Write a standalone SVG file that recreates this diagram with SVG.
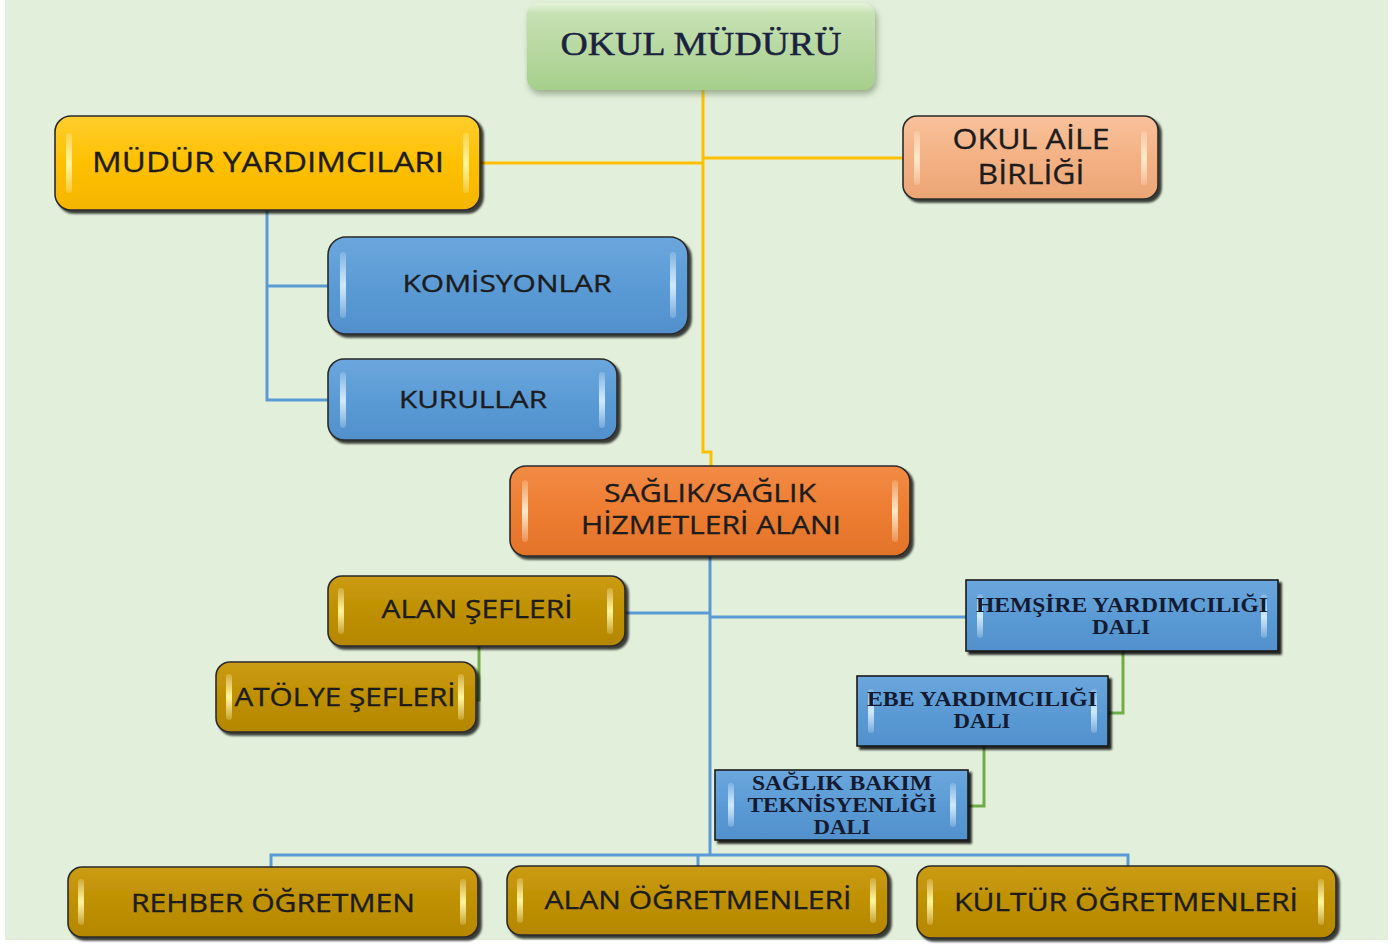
<svg xmlns="http://www.w3.org/2000/svg" width="1397" height="945" viewBox="0 0 1397 945">
<style>
.bg{fill:#e2efda}
.node{stroke:#2a2a2a;stroke-width:1.6;filter:url(#sh)}
.box{stroke:#1a1a1a;stroke-width:1.6;filter:url(#sh2)}
.t{font-family:"Open Sans","Liberation Sans",sans-serif;fill:#1c1c1c;stroke:#1c1c1c;stroke-width:0.35;text-anchor:middle}
.s{font-family:"Liberation Serif","DejaVu Serif",serif;fill:#141a30;text-anchor:middle;font-weight:bold}
.c{fill:none;stroke-width:3}
.y{stroke:#ffc000}
.b{stroke:#5b9bd5}
.g{stroke:#70ad47}
</style>
<defs>
<filter id="sh" x="-10%" y="-10%" width="125%" height="135%"><feDropShadow dx="3" dy="3" stdDeviation="1.2" flood-color="#000" flood-opacity="0.75"/></filter>
<filter id="sh2" x="-10%" y="-10%" width="125%" height="135%"><feDropShadow dx="3" dy="3" stdDeviation="0.8" flood-color="#000" flood-opacity="0.85"/></filter>
<filter id="sh3" x="-10%" y="-10%" width="125%" height="135%"><feDropShadow dx="2" dy="4" stdDeviation="3" flood-color="#6a7f5e" flood-opacity="0.6"/></filter>
<linearGradient id="gY" x1="0" y1="0" x2="0" y2="1"><stop offset="0" stop-color="#ffcd2e"/><stop offset="0.5" stop-color="#ffc000"/><stop offset="1" stop-color="#f4b500"/></linearGradient>
<linearGradient id="gP" x1="0" y1="0" x2="0" y2="1"><stop offset="0" stop-color="#f8c29c"/><stop offset="0.5" stop-color="#f4b183"/><stop offset="1" stop-color="#eca676"/></linearGradient>
<linearGradient id="gB" x1="0" y1="0" x2="0" y2="1"><stop offset="0" stop-color="#6ba7dd"/><stop offset="0.5" stop-color="#5b9bd5"/><stop offset="1" stop-color="#5190cc"/></linearGradient>
<linearGradient id="gO" x1="0" y1="0" x2="0" y2="1"><stop offset="0" stop-color="#f28b46"/><stop offset="0.5" stop-color="#ed7d31"/><stop offset="1" stop-color="#e2732a"/></linearGradient>
<linearGradient id="gG" x1="0" y1="0" x2="0" y2="1"><stop offset="0" stop-color="#cb9c14"/><stop offset="0.5" stop-color="#bf9000"/><stop offset="1" stop-color="#b48700"/></linearGradient>
<linearGradient id="gM" x1="0" y1="0" x2="0" y2="1"><stop offset="0" stop-color="#e6f3dd"/><stop offset="0.12" stop-color="#c6e1b3"/><stop offset="0.6" stop-color="#b5d79e"/><stop offset="1" stop-color="#a6cf8b"/></linearGradient>
<linearGradient id="hY" x1="0" y1="0" x2="0" y2="1"><stop offset="0" stop-color="#fffbd0" stop-opacity="0.2"/><stop offset="0.5" stop-color="#fff59a"/><stop offset="1" stop-color="#fffbd0" stop-opacity="0.2"/></linearGradient>
<linearGradient id="hB" x1="0" y1="0" x2="0" y2="1"><stop offset="0" stop-color="#e6f4ff" stop-opacity="0.2"/><stop offset="0.5" stop-color="#cfe9ff"/><stop offset="1" stop-color="#e6f4ff" stop-opacity="0.2"/></linearGradient>
<linearGradient id="hO" x1="0" y1="0" x2="0" y2="1"><stop offset="0" stop-color="#fff2dc" stop-opacity="0.2"/><stop offset="0.5" stop-color="#ffe9c8"/><stop offset="1" stop-color="#fff2dc" stop-opacity="0.2"/></linearGradient>
</defs>
<rect x="0" y="0" width="1397" height="945" fill="#ffffff"/>
<rect class="bg" x="5" y="0" width="1383" height="940"/>

<g id="connectors">
<path class="c y" d="M703 90 V452 H711 V466"/>
<path class="c y" d="M480 163 H703"/>
<path class="c y" d="M703 158 H903"/>
<path class="c b" d="M267 210 V400 H328"/>
<path class="c b" d="M267 286 H328"/>
<path class="c b" d="M710 556 V855"/>
<path class="c b" d="M625 613 H710"/>
<path class="c b" d="M710 617 H966"/>
<path class="c b" d="M271 867 V855 H1128 V866"/>
<path class="c b" d="M698 855 V866"/>
<path class="c g" d="M479 646 V700 H476"/>
<path class="c g" d="M1123 651 V713 H1108"/>
<path class="c g" d="M984 746 V806 H968"/>
</g>

<g id="okul-muduru">
<rect x="527" y="3" width="348" height="87" rx="12" fill="url(#gM)" filter="url(#sh3)"/>
<text x="701" y="55" font-family="'Liberation Serif','DejaVu Serif',serif" font-size="34" fill="#1a2240" stroke="#1a2240" stroke-width="0.5" text-anchor="middle" textLength="281" lengthAdjust="spacingAndGlyphs">OKUL MÜDÜRÜ</text>
</g>

<g id="mudur-yardimcilari">
<rect class="node" x="55" y="116" width="425" height="94" rx="16" fill="url(#gY)"/>
<rect x="66" y="133" width="6" height="60" rx="3" fill="url(#hY)"/>
<rect x="463" y="133" width="6" height="60" rx="3" fill="url(#hY)"/>
<text class="t" x="268" y="172" font-size="28" textLength="352" lengthAdjust="spacingAndGlyphs">MÜDÜR YARDIMCILARI</text>
</g>

<g id="okul-aile-birligi">
<rect class="node" x="903" y="116" width="255" height="83" rx="14" fill="url(#gP)"/>
<rect x="914" y="131" width="6" height="54" rx="3" fill="url(#hO)"/>
<rect x="1141" y="131" width="6" height="54" rx="3" fill="url(#hO)"/>
<text class="t" x="1031" y="149" font-size="28" textLength="157" lengthAdjust="spacingAndGlyphs">OKUL AİLE</text>
<text class="t" x="1031" y="184" font-size="28" textLength="107" lengthAdjust="spacingAndGlyphs">BİRLİĞİ</text>
</g>

<g id="komisyonlar">
<rect class="node" x="328" y="237" width="360" height="97" rx="18" fill="url(#gB)"/>
<rect x="340" y="252" width="6" height="66" rx="3" fill="url(#hB)"/>
<rect x="670" y="252" width="6" height="66" rx="3" fill="url(#hB)"/>
<text class="t" x="507" y="292" font-size="24" textLength="209" lengthAdjust="spacingAndGlyphs">KOMİSYONLAR</text>
</g>

<g id="kurullar">
<rect class="node" x="328" y="359" width="289" height="81" rx="16" fill="url(#gB)"/>
<rect x="340" y="372" width="6" height="56" rx="3" fill="url(#hB)"/>
<rect x="599" y="372" width="6" height="56" rx="3" fill="url(#hB)"/>
<text class="t" x="473" y="408" font-size="24" textLength="148" lengthAdjust="spacingAndGlyphs">KURULLAR</text>
</g>

<g id="saglik-alani">
<rect class="node" x="510" y="466" width="400" height="90" rx="16" fill="url(#gO)"/>
<rect x="522" y="480" width="6" height="62" rx="3" fill="url(#hO)"/>
<rect x="892" y="480" width="6" height="62" rx="3" fill="url(#hO)"/>
<text class="t" x="710" y="502" font-size="25" textLength="212" lengthAdjust="spacingAndGlyphs">SAĞLIK/SAĞLIK</text>
<text class="t" x="711" y="534" font-size="25" textLength="260" lengthAdjust="spacingAndGlyphs">HİZMETLERİ ALANI</text>
</g>

<g id="alan-sefleri">
<rect class="node" x="328" y="576" width="297" height="70" rx="14" fill="url(#gG)"/>
<rect x="338" y="588" width="6" height="46" rx="3" fill="url(#hY)"/>
<rect x="607" y="588" width="6" height="46" rx="3" fill="url(#hY)"/>
<text class="t" x="477" y="618" font-size="25" textLength="191" lengthAdjust="spacingAndGlyphs">ALAN ŞEFLERİ</text>
</g>

<g id="atolye-sefleri">
<rect class="node" x="216" y="662" width="260" height="70" rx="14" fill="url(#gG)"/>
<rect x="226" y="674" width="6" height="46" rx="3" fill="url(#hY)"/>
<rect x="458" y="674" width="6" height="46" rx="3" fill="url(#hY)"/>
<text class="t" x="345" y="706" font-size="25" textLength="221" lengthAdjust="spacingAndGlyphs">ATÖLYE ŞEFLERİ</text>
</g>

<g id="hemsire-yardimciligi">
<rect class="box" x="966" y="580" width="312" height="71" fill="url(#gB)"/>
<rect x="977" y="594" width="6" height="44" rx="3" fill="url(#hB)"/>
<rect x="1261" y="594" width="6" height="44" rx="3" fill="url(#hB)"/>
<text class="s" x="1122" y="612" font-size="20" textLength="292" lengthAdjust="spacingAndGlyphs">HEMŞİRE YARDIMCILIĞI</text>
<text class="s" x="1121" y="634" font-size="20" textLength="58" lengthAdjust="spacingAndGlyphs">DALI</text>
</g>

<g id="ebe-yardimciligi">
<rect class="box" x="857" y="676" width="251" height="70" fill="url(#gB)"/>
<rect x="868" y="689" width="6" height="44" rx="3" fill="url(#hB)"/>
<rect x="1091" y="689" width="6" height="44" rx="3" fill="url(#hB)"/>
<text class="s" x="982" y="706" font-size="20" textLength="230" lengthAdjust="spacingAndGlyphs">EBE YARDIMCILIĞI</text>
<text class="s" x="982" y="728" font-size="20" textLength="57" lengthAdjust="spacingAndGlyphs">DALI</text>
</g>

<g id="saglik-bakim">
<rect class="box" x="715" y="770" width="253" height="70" fill="url(#gB)"/>
<rect x="728" y="783" width="6" height="44" rx="3" fill="url(#hB)"/>
<rect x="950" y="783" width="6" height="44" rx="3" fill="url(#hB)"/>
<text class="s" x="842" y="790" font-size="20" textLength="180" lengthAdjust="spacingAndGlyphs">SAĞLIK BAKIM</text>
<text class="s" x="842" y="812" font-size="20" textLength="189" lengthAdjust="spacingAndGlyphs">TEKNİSYENLİĞİ</text>
<text class="s" x="842" y="834" font-size="20" textLength="57" lengthAdjust="spacingAndGlyphs">DALI</text>
</g>

<g id="rehber-ogretmen">
<rect class="node" x="68" y="867" width="410" height="70" rx="14" fill="url(#gG)"/>
<rect x="78" y="879" width="6" height="46" rx="3" fill="url(#hY)"/>
<rect x="460" y="879" width="6" height="46" rx="3" fill="url(#hY)"/>
<text class="t" x="273" y="912" font-size="25" textLength="284" lengthAdjust="spacingAndGlyphs">REHBER ÖĞRETMEN</text>
</g>

<g id="alan-ogretmenleri">
<rect class="node" x="507" y="866" width="381" height="69" rx="14" fill="url(#gG)"/>
<rect x="517" y="878" width="6" height="45" rx="3" fill="url(#hY)"/>
<rect x="870" y="878" width="6" height="45" rx="3" fill="url(#hY)"/>
<text class="t" x="698" y="909" font-size="25" textLength="307" lengthAdjust="spacingAndGlyphs">ALAN ÖĞRETMENLERİ</text>
</g>

<g id="kultur-ogretmenleri">
<rect class="node" x="917" y="866" width="419" height="72" rx="14" fill="url(#gG)"/>
<rect x="927" y="879" width="6" height="46" rx="3" fill="url(#hY)"/>
<rect x="1318" y="879" width="6" height="46" rx="3" fill="url(#hY)"/>
<text class="t" x="1126" y="911" font-size="25" textLength="344" lengthAdjust="spacingAndGlyphs">KÜLTÜR ÖĞRETMENLERİ</text>
</g>
</svg>
